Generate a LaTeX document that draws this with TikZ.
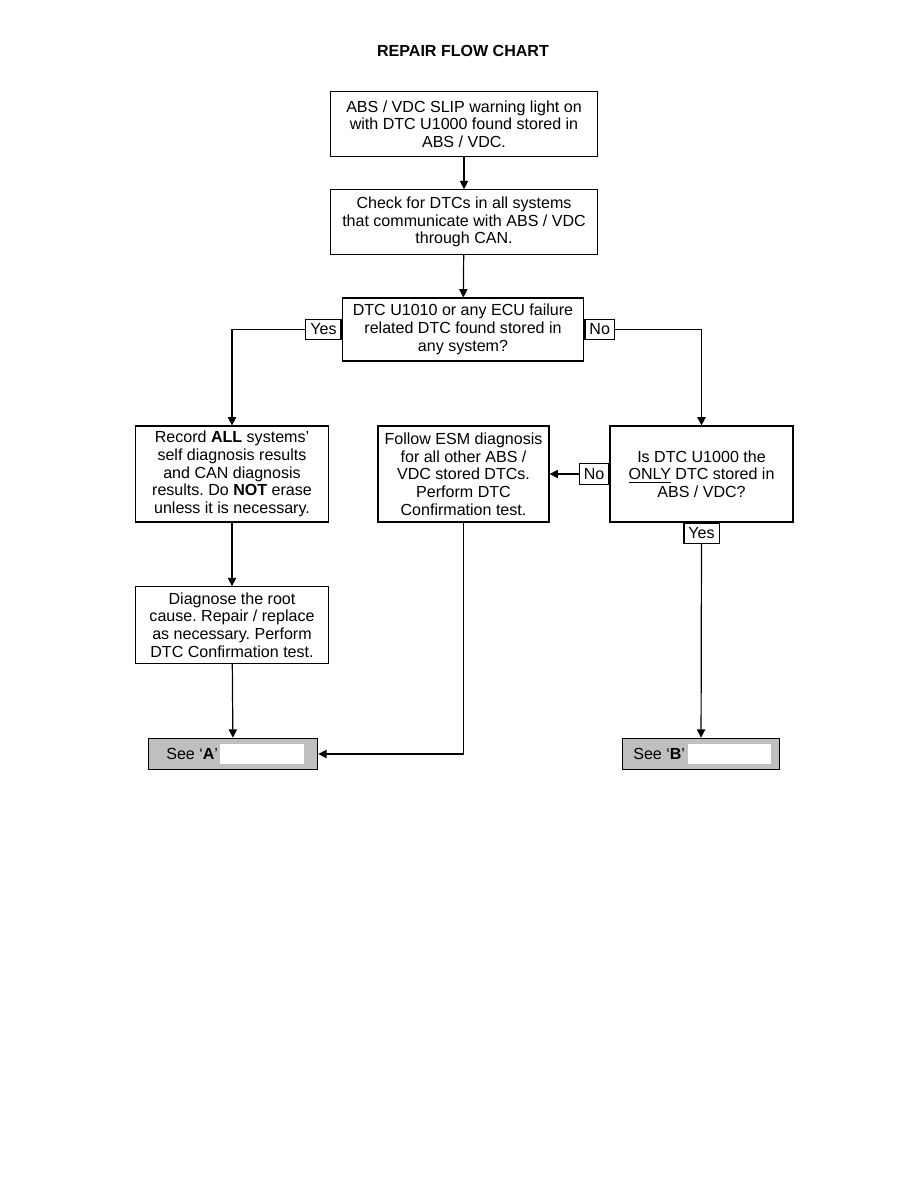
\documentclass[tikz,border=0pt]{standalone}
\usepackage{fontspec}
\setmainfont{Liberation Sans}
\usepackage{tikz}
\usetikzlibrary{arrows.meta, positioning}
\frenchspacing

\tikzset{
  box/.style={draw, line width=0.8pt, align=center, inner sep=2pt,
    font=\fontsize{10.7}{11.8}\selectfont},
  tag/.style={draw, line width=0.8pt, inner xsep=3pt, inner ysep=2pt, minimum height=13.5pt,
    font=\fontsize{10.7}{11.8}\selectfont},
  seebox/.style={draw, line width=0.8pt, fill=gray!50, minimum width=113pt,
    minimum height=21pt},
  flow/.style={line width=0.8pt},
  arr/.style={flow, -{Triangle[length=5.5pt, width=5.5pt]}}
}

\begin{document}
\begin{tikzpicture}[x=0.6667pt, y=-0.6667pt]
    \useasboundingbox (0,0) rectangle (918,1188);

    % Titulo
    \node[font=\fontsize{10.7}{12}\selectfont\bfseries] (title) at (463,51) {REPAIR FLOW CHART};

    % Cajas
    \node[box, minimum width=178pt, minimum height=43pt] (warn) at (464,124)
      {ABS / VDC SLIP warning light on\\ with DTC U1000 found stored in\\ ABS / VDC.};
    \node[box, minimum width=178pt, minimum height=43pt] (check) at (464,222)
      {Check for DTCs in all systems\\ that communicate with ABS / VDC\\ through CAN.};
    \node[box, minimum width=161pt, minimum height=42pt] (anyecu) at (463,329.5)
      {DTC U1010 or any ECU failure\\ related DTC found stored in\\ any system?};
    \node[box, minimum width=129pt, minimum height=64pt] (record) at (232,474)
      {Record \textbf{ALL} systems'\\ self diagnosis results\\ and CAN diagnosis\\ results. Do \textbf{NOT} erase\\ unless it is necessary.};
    \node[box, minimum width=114pt, minimum height=64pt] (esm) at (463.5,474)
      {Follow ESM diagnosis\\ for all other ABS /\\ VDC stored DTCs.\\ Perform DTC\\ Confirmation test.};
    \node[box, minimum width=122pt, minimum height=64pt] (only) at (701.5,474)
      {Is DTC U1000 the\\ \underline{ONLY} DTC stored in\\ ABS / VDC?};
    \node[box, minimum width=129pt, minimum height=51pt] (root) at (232,625)
      {Diagnose the root\\ cause. Repair / replace\\ as necessary. Perform\\ DTC Confirmation test.};

    % Salidas
    \node[seebox] (seeA) at (233,754) {};
    \node[seebox, minimum width=105pt] (seeB) at (701,754) {};
    \fill[white] (220,744) rectangle (304,764);
    \fill[white] (688,744) rectangle (771,764);
    \node[font=\fontsize{10.7}{12}\selectfont, anchor=west] (seeAtxt) at (161,754) {See ‘\textbf{A}’};
    \node[font=\fontsize{10.7}{12}\selectfont, anchor=west] (seeBtxt) at (628,754) {See ‘\textbf{B}’};

    % Etiquetas Yes / No
    \node[tag, anchor=east] (yes1) at (anyecu.west) {Yes};
    \node[tag, anchor=west] (no1) at (anyecu.east) {No};
    \node[tag, anchor=east] (no2) at (only.west) {No};
    \node[tag, anchor=north] (yes2) at (only.south) {Yes};

    % Conectores
    \draw[arr] (warn) -- (check);
    \draw[arr] (check) -- (anyecu);
    \draw[arr] (yes1.west) -| (record.north);
    \draw[arr] (no1.east) -| (only.north);
    \draw[arr] (no2.west) -- (esm.east |- no2.west);
    \draw[arr] (record) -- (root);
    \draw[arr] (root) -- (seeA);
    \draw[arr] (yes2) -- (seeB);
    \draw[arr] (esm.south) |- (seeA.east);
\end{tikzpicture}
\end{document}
